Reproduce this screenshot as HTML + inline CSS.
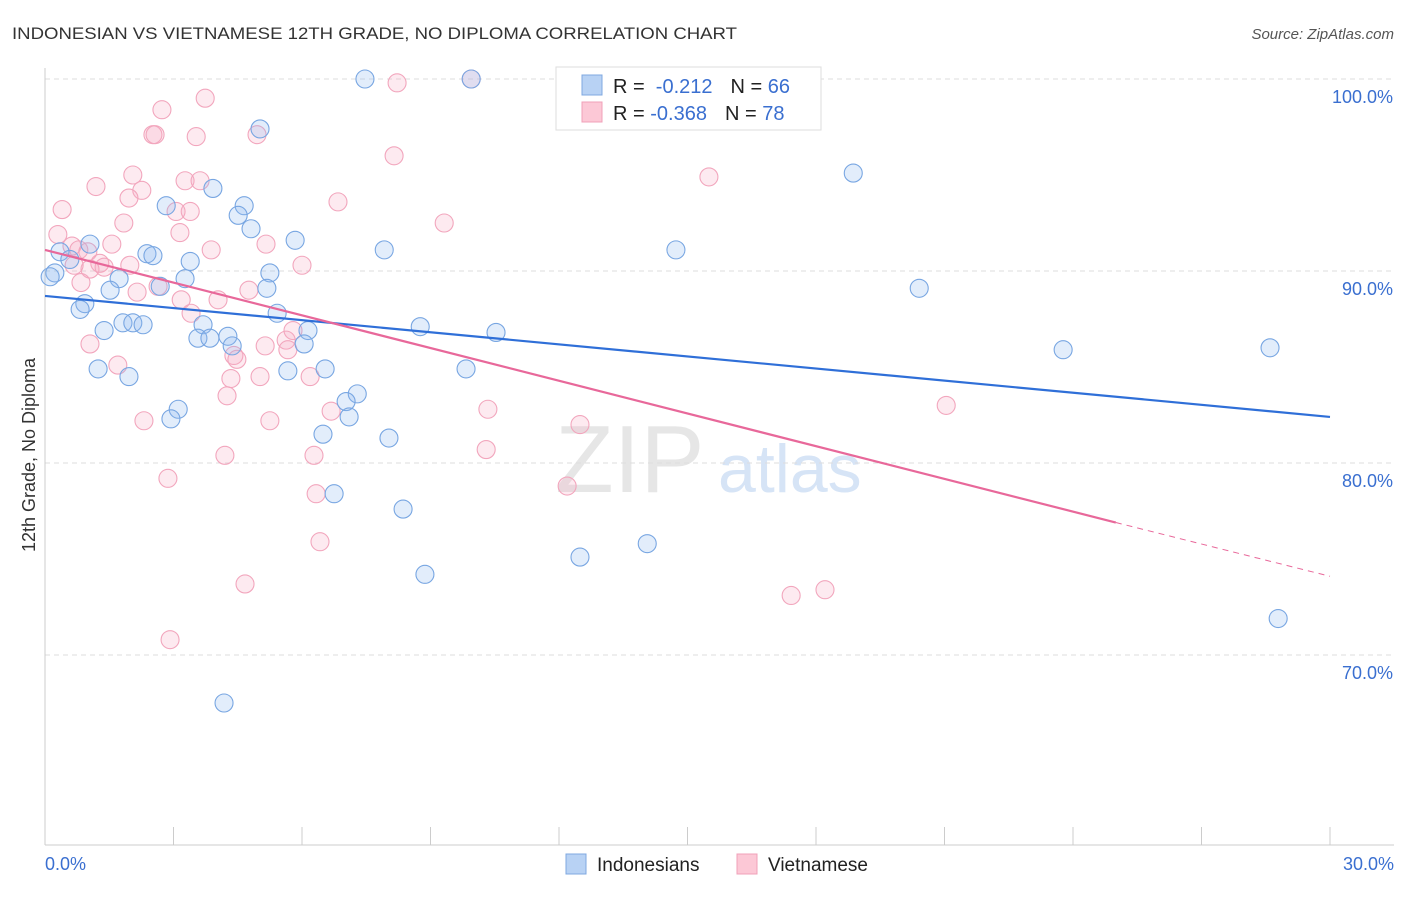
<!DOCTYPE html>
<html><head><meta charset="utf-8"><style>
body{margin:0;background:#fff;font-family:"Liberation Sans",sans-serif;}
svg text{font-family:"Liberation Sans",sans-serif;}
</style></head><body>
<svg id="chart" width="1406" height="892" xmlns="http://www.w3.org/2000/svg">
<text x="12" y="39" font-size="17" fill="#333" textLength="725" lengthAdjust="spacingAndGlyphs">INDONESIAN VS VIETNAMESE 12TH GRADE, NO DIPLOMA CORRELATION CHART</text>
<text x="1394" y="39" font-size="15" fill="#555" text-anchor="end" font-style="italic">Source: ZipAtlas.com</text>
<text transform="translate(35,455) rotate(-90)" font-size="18" fill="#333" text-anchor="middle">12th Grade, No Diploma</text>
<g><text x="555" y="492" font-size="96" fill="#e6e6e6" font-family="Liberation Serif">ZIP</text><text x="718" y="492" font-size="68" fill="#d6e4f6">atlas</text></g>
<g id="grid"></g><g id="axes"></g><g id="pts"></g><g id="lines"></g>
<g>
<rect x="556" y="67" width="265" height="63" fill="#fff" stroke="#ddd"/>
<rect x="582" y="75" width="20" height="20" fill="#b8d2f4" stroke="#7fa8e0"/>
<rect x="582" y="102" width="20" height="20" fill="#fcc8d6" stroke="#f0a0b8"/>
<text x="613" y="93" font-size="20" fill="#222">R = <tspan fill="#3a6fd0">&#160;-0.212</tspan><tspan dx="18">N = </tspan><tspan fill="#3a6fd0">66</tspan></text>
<text x="613" y="120" font-size="20" fill="#222">R = <tspan fill="#3a6fd0">-0.368</tspan><tspan dx="18">N = </tspan><tspan fill="#3a6fd0">78</tspan></text>
</g>
<g>
<rect x="566" y="854" width="20" height="20" fill="#b8d2f4" stroke="#7fa8e0"/>
<text x="597" y="871" font-size="19" fill="#222">Indonesians</text>
<rect x="737" y="854" width="20" height="20" fill="#fcc8d6" stroke="#f0a0b8"/>
<text x="768" y="871" font-size="19" fill="#222">Vietnamese</text>
</g>
</svg>
<script>
const yTicks=[100,90,80,70];
const xTickVals=[0,3,6,9,12,15,18,21,24,27,30];
const blueX=[7.47,9.95,5.02,18.87,3.92,2.83,4.65,4.51,4.81,5.84,7.92,14.73,1.05,0.35,2.38,2.52,0.58,3.39,5.25,0.23,0.12,1.73,3.27,2.69,5.18,1.52,20.41,0.93,0.82,5.42,3.69,1.82,2.05,2.29,1.38,6.14,8.76,10.53,3.57,3.85,4.27,4.37,6.05,23.77,28.6,1.24,1.96,5.67,6.54,9.83,7.29,7.03,3.11,2.94,7.1,6.49,8.03,6.75,8.36,12.49,14.06,8.87,28.79,4.18];
const blueY=[100,100,97.4,95.1,94.3,93.4,93.4,92.9,92.2,91.6,91.1,91.1,91.4,91.0,90.9,90.8,90.6,90.5,89.9,89.9,89.7,89.6,89.6,89.2,89.1,89.0,89.1,88.3,88.0,87.8,87.2,87.3,87.3,87.2,86.9,86.9,87.1,86.8,86.5,86.5,86.6,86.1,86.2,85.9,86.0,84.9,84.5,84.8,84.9,84.9,83.6,83.2,82.8,82.3,82.4,81.5,81.3,78.4,77.6,75.1,75.8,74.2,71.9,67.5];
const pinkX=[9.95,8.22,3.74,2.73,2.52,2.57,3.53,4.95,8.15,15.5,2.05,1.19,3.27,3.62,2.26,1.96,6.84,0.4,3.06,3.39,1.84,9.32,3.15,0.3,1.56,5.16,3.88,0.63,0.79,1.0,1.28,1.98,6.0,1.05,1.38,0.68,0.84,2.15,4.76,2.64,4.04,3.18,3.41,5.79,1.05,5.63,5.67,5.14,4.41,4.48,1.7,4.34,5.02,6.19,4.25,6.68,10.34,21.04,2.31,5.25,12.49,10.3,4.2,6.28,2.87,6.33,12.19,6.42,4.67,17.42,18.21,2.92];
const pinkY=[100,99.8,99.0,98.4,97.1,97.1,97.0,97.1,96.0,94.9,95.0,94.4,94.7,94.7,94.2,93.8,93.6,93.2,93.1,93.1,92.5,92.5,92.0,91.9,91.4,91.4,91.1,91.3,91.1,91.0,90.4,90.3,90.3,90.1,90.2,90.3,89.4,88.9,89.0,89.2,88.5,88.5,87.8,86.9,86.2,86.4,85.9,86.1,85.6,85.4,85.1,84.4,84.5,84.5,83.5,82.7,82.8,83.0,82.2,82.2,82.0,80.7,80.4,80.4,79.2,78.4,78.8,75.9,73.7,73.1,73.4,70.8];
const blueLine=[[0,88.7],[30,82.4]];
const pinkSolid=[[0,91.1],[25,76.9]];
const pinkDash=[[25,76.9],[30,74.1]];
const NS="http://www.w3.org/2000/svg";
const X=v=>45+v/30*1285, Y=v=>79+(100-v)*19.2;
function mk(t,a,p){const e=document.createElementNS(NS,t);for(const k in a)e.setAttribute(k,a[k]);p.appendChild(e);return e;}
const grid=document.getElementById('grid'),axes=document.getElementById('axes'),pts=document.getElementById('pts'),lines=document.getElementById('lines');
yTicks.forEach(v=>{
 const l=mk('line',{x1:45,x2:1394,y1:Y(v),y2:Y(v),stroke:'#ddd','stroke-dasharray':'5,4'},grid);
 
 
 const t=mk('text',{x:1393,y:Y(v)+24,'font-size':18,fill:'#3a6fd0','text-anchor':'end'},grid);t.textContent=v.toFixed(1)+'%';
 
 
});
mk('line',{x1:45,x2:45,y1:68,y2:845,stroke:'#ccc'},axes);
mk('line',{x1:45,x2:1394,y1:845,y2:845,stroke:'#ccc'},axes);
xTickVals.forEach(v=>{const l=mk('line',{x1:X(v),x2:X(v),y1:827,y2:845,stroke:'#ccc'},axes);
 
 });
const t0=mk('text',{x:45,y:870,'font-size':18,fill:'#3a6fd0'},axes);t0.textContent='0.0%';


const t1=mk('text',{x:1394,y:870,'font-size':18,fill:'#3a6fd0','text-anchor':'end'},axes);t1.textContent='30.0%';


function dots(xs,ys,fill,stroke,name){xs.forEach((x,i)=>{const c=mk('circle',{cx:X(x),cy:Y(ys[i]),r:9,fill:fill,stroke:stroke,'stroke-width':1.1},pts);
 
 });}
dots(pinkX,pinkY,'rgba(248,170,195,0.25)','#f2a6bd','vietnamese-point');
dots(blueX,blueY,'rgba(140,185,240,0.25)','#78a6e2','indonesian-point');
function ln(p,col,dash,name){const l=mk('line',{x1:X(p[0][0]),y1:Y(p[0][1]),x2:X(p[1][0]),y2:Y(p[1][1]),stroke:col,'stroke-width':dash?1:2.2},lines);if(dash)l.setAttribute('stroke-dasharray','6,5');
 
 }
ln(blueLine,'#2f6fd8',false,'indonesian-trendline');
ln(pinkSolid,'#e8689a',false,'vietnamese-trendline');
ln(pinkDash,'#e8689a',true,'vietnamese-trendline-extension');
</script>
</body></html>
